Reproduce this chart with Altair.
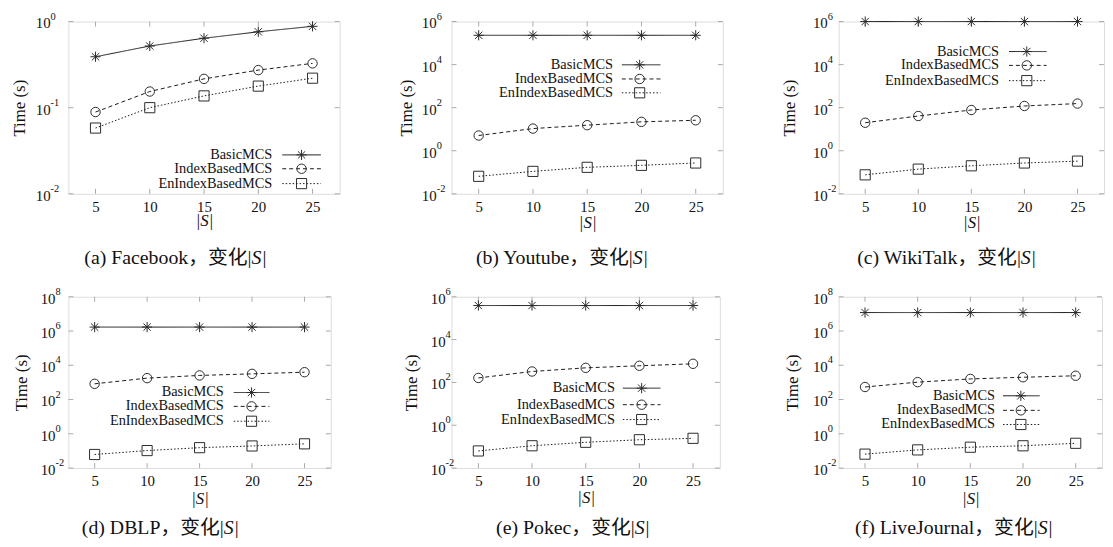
import altair as alt
import pandas as pd

# ---------------- data ----------------
S_VALUES = [5, 10, 15, 20, 25]
SERIES = ["BasicMCS", "IndexBasedMCS", "EnIndexBasedMCS"]

facebook_basic = [0.39, 0.52, 0.64, 0.76, 0.88]
facebook_index = [0.089, 0.154, 0.216, 0.273, 0.327]
facebook_enindex = [0.058, 0.100, 0.137, 0.178, 0.220]

youtube_basic = [230000, 230000, 230000, 230000, 230000]
youtube_index = [5.1, 10.7, 15.4, 22.0, 26.0]
youtube_enindex = [0.065, 0.11, 0.17, 0.21, 0.27]

wikitalk_basic = [1000000, 1000000, 1000000, 1000000, 1000000]
wikitalk_index = [20.0, 41.0, 78.0, 120.0, 155.0]
wikitalk_enindex = [0.076, 0.14, 0.20, 0.27, 0.33]

dblp_basic = [1700000, 1700000, 1700000, 1700000, 1700000]
dblp_index = [830, 1780, 2560, 3160, 3950]
dblp_enindex = [0.062, 0.105, 0.155, 0.195, 0.26]

pokec_basic = [390000, 390000, 390000, 390000, 390000]
pokec_index = [162, 324, 480, 600, 740]
pokec_enindex = [0.063, 0.11, 0.16, 0.21, 0.245]

lj_basic = [12000000, 12000000, 12000000, 12000000, 12000000]
lj_index = [540, 1040, 1600, 2000, 2450]
lj_enindex = [0.065, 0.115, 0.165, 0.20, 0.28]

# y tick exponents (labels 10^e)
fb_yexp = [-2, -1, 0]
yt_yexp = [-2, 0, 2, 4, 6]
wt_yexp = [-2, 0, 2, 4, 6]
db_yexp = [-2, 0, 2, 4, 6, 8]
pk_yexp = [-2, 0, 2, 4, 6]
lj_yexp = [-2, 0, 2, 4, 6, 8]

captions = [
    "(a) Facebook，变化|", "(b) Youtube，变化|", "(c) WikiTalk，变化|",
    "(d) DBLP，变化|", "(e) Pokec，变化|", "(f) LiveJournal，变化|",
]

# ---------------- style ----------------
FONT = "Liberation Serif"
CAPFONT = "Liberation Serif, Noto Sans CJK SC"
LINE = "#1a1a1a"
MARK = "#2a2a2a"
BORDER = "#9a9a9a"
TICK = "#aaaaaa"
TEXT = "#111111"

STAR = "M-1,0L1,0M0,-1L0,1M-0.72,-0.72L0.72,0.72M-0.72,0.72L0.72,-0.72"
STYLE = {
    "BasicMCS": dict(dash=[1, 0], shape=STAR, size=105),
    "IndexBasedMCS": dict(dash=[4, 3], shape="circle", size=90),
    "EnIndexBasedMCS": dict(dash=[1.5, 2], shape="square", size=105),
}


def panel(vals, yexp, w, h, leg, lab_x, ytitle_x, xtitle_y, cap, cap_x, cap_y):
    rows = []
    for s, v in zip(SERIES, vals):
        for x, t in zip(S_VALUES, v):
            rows.append({"S": x, "Time": t, "series": s})
    df = pd.DataFrame(rows)
    ymin, ymax = 10.0 ** yexp[0], 10.0 ** yexp[-1]

    xscale = alt.Scale(domain=[2.5, 27.5], nice=False, zero=False)
    yscale = alt.Scale(type="log", domain=[ymin, ymax], nice=False)
    xaxis = alt.Axis(values=S_VALUES, ticks=False, tickSize=0, domain=False, grid=False,
                     labelFont=FONT, labelFontSize=15, labelPadding=13, labelBaseline="middle",
                     labelColor=TEXT, labelAngle=0, labelFlush=False,
                     title="|S|", titleFont=FONT, titleFontSize=17, titleFontStyle="italic",
                     titleFontWeight="normal", titleColor=TEXT, titleBaseline="middle",
                     titleX=w / 2, titleY=xtitle_y)
    yaxis = alt.Axis(labels=False, ticks=False, domain=False, grid=False,
                     title="Time (s)", titleFont=FONT, titleFontSize=17, titleFontWeight="normal",
                     titleColor=TEXT, titleAngle=270, titleBaseline="middle", titleAlign="center",
                     titleX=ytitle_x, titleY=h / 2)
    X = alt.X("S:Q", scale=xscale, axis=xaxis)
    Y = alt.Y("Time:Q", scale=yscale, axis=yaxis)

    layers = []
    # inward ticks
    yt = pd.DataFrame({"Time": [10.0 ** e for e in yexp],
                       "base": ["10"] * len(yexp),
                       "exp": [str(e) for e in yexp]})
    xt = pd.DataFrame({"S": S_VALUES})
    layers.append(alt.Chart(yt).mark_rule(color=TICK, strokeWidth=1).encode(
        y=Y, x=alt.value(0), x2=alt.value(5)))
    layers.append(alt.Chart(yt).mark_rule(color=TICK, strokeWidth=1).encode(
        y=Y, x=alt.value(w - 5), x2=alt.value(w)))
    layers.append(alt.Chart(xt).mark_rule(color=TICK, strokeWidth=1).encode(
        x=X, y=alt.value(h - 5), y2=alt.value(h)))
    layers.append(alt.Chart(xt).mark_rule(color=TICK, strokeWidth=1).encode(
        x=X, y=alt.value(0), y2=alt.value(5)))
    # y tick labels 10^e
    layers.append(alt.Chart(yt).mark_text(align="right", baseline="middle", font=FONT,
                                          fontSize=15, dy=2, color=TEXT).encode(
        y=Y, x=alt.value(lab_x), text="base:N"))
    layers.append(alt.Chart(yt).mark_text(align="left", baseline="middle", font=FONT,
                                          fontSize=10.5, dy=-5, color=TEXT).encode(
        y=Y, x=alt.value(lab_x), text="exp:N"))

    # series
    for s in SERIES:
        sub = df[df.series == s]
        st = STYLE[s]
        layers.append(alt.Chart(sub).mark_line(color=LINE, strokeWidth=1,
                                               strokeDash=st["dash"]).encode(x=X, y=Y))
        layers.append(alt.Chart(sub).mark_point(shape=st["shape"], filled=False, color=MARK,
                                                size=st["size"], strokeWidth=1,
                                                opacity=1).encode(x=X, y=Y))

    # legend (gnuplot style: label, then line sample with marker)
    tx, ys, l1, l2, m = leg
    for s, yy in zip(SERIES, ys):
        st = STYLE[s]
        ld = pd.DataFrame({"label": [s]})
        layers.append(alt.Chart(ld).mark_text(align="right", baseline="middle", font=FONT,
                                              fontSize=14.5, color=TEXT).encode(
            x=alt.value(tx), y=alt.value(yy), text="label:N"))
        layers.append(alt.Chart(ld).mark_rule(color=LINE, strokeWidth=1,
                                              strokeDash=st["dash"]).encode(
            x=alt.value(l1), x2=alt.value(l2), y=alt.value(yy)))
        layers.append(alt.Chart(ld).mark_point(shape=st["shape"], filled=False, color=MARK,
                                               size=st["size"], strokeWidth=1,
                                               opacity=1).encode(
            x=alt.value(m), y=alt.value(yy)))

    # caption
    cd = pd.DataFrame({"a": [cap], "b": ["S"], "c": ["|"]})
    layers.append(alt.Chart(cd).mark_text(align="right", baseline="middle", font=CAPFONT,
                                          fontSize=20, color=TEXT).encode(
        x=alt.value(cap_x), y=alt.value(cap_y), text="a:N"))
    layers.append(alt.Chart(cd).mark_text(align="left", baseline="middle", font=FONT,
                                          fontSize=20, fontStyle="italic", color=TEXT).encode(
        x=alt.value(cap_x), y=alt.value(cap_y), text="b:N"))
    layers.append(alt.Chart(cd).mark_text(align="left", baseline="middle", font=FONT,
                                          fontSize=20, color=TEXT).encode(
        x=alt.value(cap_x + 11), y=alt.value(cap_y), text="c:N"))

    return alt.layer(*layers).properties(width=w, height=h)


def spacer(w, h):
    return alt.Chart(pd.DataFrame({"v": [0]})).mark_point(opacity=0).encode(
        x=alt.value(0), y=alt.value(0)).properties(
        width=w, height=h, view=alt.ViewBackground(stroke="transparent"))


H1, H2 = 174, 173
pa = panel([facebook_basic, facebook_index, facebook_enindex], fb_yexp, 274, H1,
           (206, [134.7, 148.7, 163.7], 216, 255, 235.5), -18, -49, 27, captions[0], 185, 239)
pb = panel([youtube_basic, youtube_index, youtube_enindex], yt_yexp, 274, H1,
           (163, [43.7, 58, 72], 172, 211, 190), -15, -45, 29, captions[1], 183, 239)
pc = panel([wikitalk_basic, wikitalk_index, wikitalk_enindex], wt_yexp, 268, H1,
           (162, [30.3, 44.3, 59.7], 172, 210, 190), -11, -50, 29, captions[2], 184, 239)
pd_ = panel([dblp_basic, dblp_index, dblp_enindex], db_yexp, 265, H2,
            (157, [96.7, 110.7, 125.7], 167, 203, 185), -13, -47, 31, captions[3], 157, 234)
pe = panel([pokec_basic, pokec_index, pokec_enindex], pk_yexp, 271, H2,
           (165, [92.3, 109, 124], 173, 211, 192), -6, -40, 30, captions[4], 185, 234)
pf = panel([lj_basic, lj_index, lj_enindex], lj_yexp, 266, H2,
           (158, [100, 114.7, 129], 166, 203, 184), -11, -47, 31, captions[5], 201, 234)

chart = alt.concat(
    spacer(1, H1), pa, spacer(113, H1), pb, spacer(116, H1), pc,
    spacer(13, H2), pd_, spacer(108, H2), pe, spacer(117, H2), pf,
    columns=6, spacing={"row": 104, "column": 0}, bounds="flush", align="none",
).properties(
    padding={"left": 2, "top": 0, "right": 0, "bottom": 0},
).configure_view(stroke=BORDER, strokeWidth=1).configure(background="white")

chart.save("out.html", embed_options={"renderer": "svg", "actions": False})
